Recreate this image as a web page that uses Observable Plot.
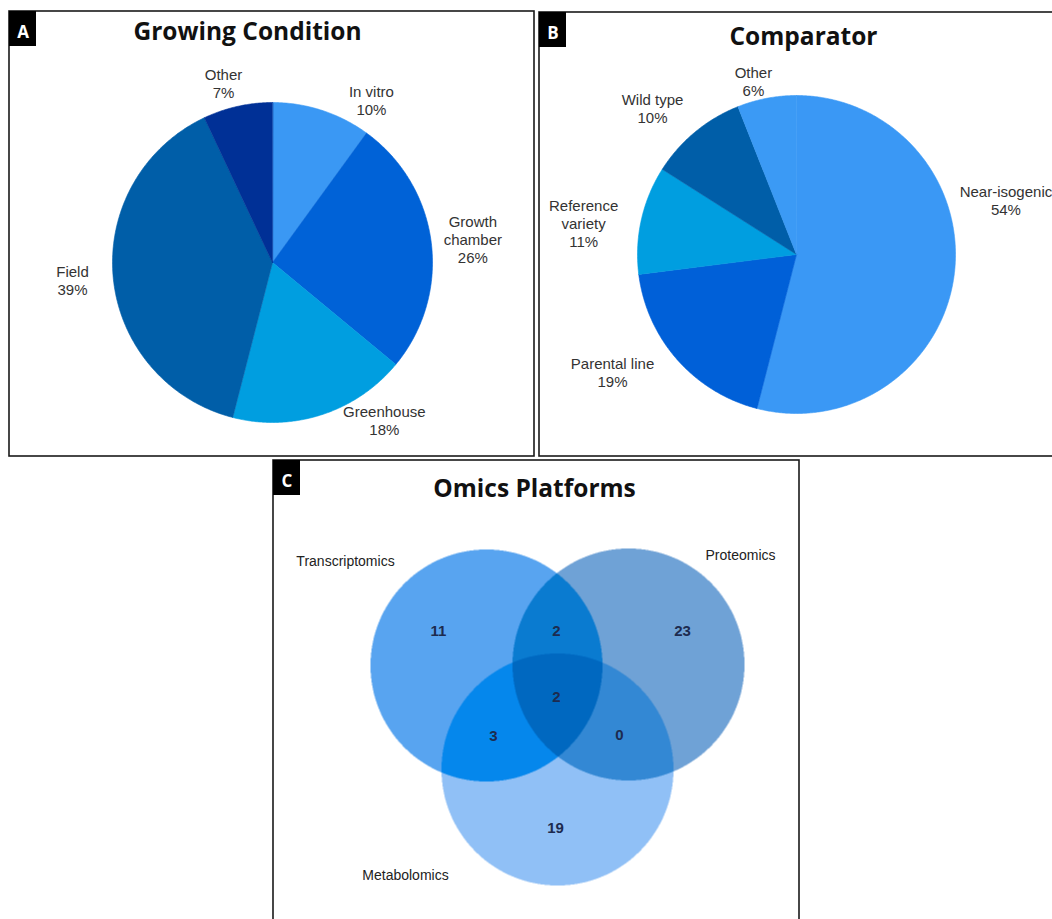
<!DOCTYPE html>
<html><head><meta charset="utf-8">
<script src="https://cdn.jsdelivr.net/npm/d3@7"></script>
<script src="https://cdn.jsdelivr.net/npm/@observablehq/plot@0.6"></script>
<style>
html,body{margin:0;padding:0;background:#fff;}
#chart{width:1052px;height:919px;overflow:hidden;}
</style></head><body><div id="chart"></div>
<script>
// ---------- DATA ----------
const growingCategories = ["In vitro", "Growth chamber", "Greenhouse", "Field", "Other"];
const growingValues = [10, 26, 18, 39, 7];
const comparatorCategories = ["Near-isogenic", "Parental line", "Reference variety", "Wild type", "Other"];
const comparatorValues = [54, 19, 11, 10, 6];
const omicsSets = ["Transcriptomics", "Proteomics", "Metabolomics"];
const omicsRegionKeys = ["T", "TP", "P", "TM", "TPM", "PM", "M"];
const omicsRegionCounts = [11, 2, 23, 3, 2, 0, 19];
const panelTitles = ["Growing Condition", "Comparator", "Omics Platforms"];
const panelLetters = ["A", "B", "C"];

// ---------- LAYOUT / STYLE ----------
const W = 1052, H = 919;
const panels = [
  {x1: 9, y1: 11, x2: 534, y2: 456},
  {x1: 539, y1: 12, x2: 1075, y2: 456},
  {x1: 273, y1: 460, x2: 799, y2: 940}
];
const letterBoxW = 27, letterBoxH = 35;
const titlePos = [{x: 247, y: 32}, {x: 803, y: 37}, {x: 534, y: 489}];
const pieA = {cx: 272, cy: 262, r: 160,
  colors: ["#3a98f4", "#0062d7", "#009ee0", "#005ea8", "#003096"],
  labelPolar: [[31.3, 1.19], [83.5, 1.26], [144.7, 1.21], [264.9, 1.255], [344.7, 1.16]],
  wrap: [false, true, false, false, false]};
const pieB = {cx: 796, cy: 254, r: 159,
  colors: ["#3a98f5", "#0060d8", "#009ee0", "#005ea8", "#3b9af5"],
  labelPolar: [[75.6, 1.36], [237.3, 1.375], [278.3, 1.353], [315.4, 1.29], [346, 1.12]],
  wrap: [false, false, true, false, false]};
const venn = {r: 116, centers: [[486, 665], [628, 664], [557, 769]],
  setLabelPos: [[345, 561], [740, 555], [405, 875]],
  regionLabelPos: [[438, 631], [556, 631], [682, 631], [493, 736], [556, 697], [619, 735], [555, 828]],
  regionColors: {T: "#58a4f0", P: "#6fa2d6", M: "#90c0f6", TP: "#0a7bd0", TM: "#0587ec", PM: "#3388d4", TPM: "#0068c0"},
  baseColors: ["#58a4f0", "#6fa2d6", "#90c0f6"]};
const labelFont = "'Liberation Sans', Arial, Helvetica, sans-serif";
const titleFont = "'Open Sans', 'Lato', sans-serif";

// ---------- BUILD ----------
function pieGeometry(cats, vals, cfg) {
  const arcs = d3.pie().sort(null).value(d => d)(vals);
  const pts = [];
  arcs.forEach((a, i) => {
    const k = cats[i], c = cfg.colors[i];
    pts.push({k, c, x: cfg.cx, y: cfg.cy});
    const n = Math.max(2, Math.ceil((a.endAngle - a.startAngle) / (Math.PI / 360)));
    for (let j = 0; j <= n; j++) {
      const t = a.startAngle + (a.endAngle - a.startAngle) * j / n;
      pts.push({k, c, x: cfg.cx + cfg.r * Math.sin(t), y: cfg.cy - cfg.r * Math.cos(t)});
    }
  });
  const labels = cats.map((k, i) => {
    const [ang, d] = cfg.labelPolar[i];
    const t = ang * Math.PI / 180;
    const name = cfg.wrap[i] ? k.replace(" ", "\n") : k;
    return {text: name + "\n" + vals[i] + "%", x: cfg.cx + cfg.r * d * Math.sin(t), y: cfg.cy - cfg.r * d * Math.cos(t)};
  });
  return {pts, labels};
}

const gA = pieGeometry(growingCategories, growingValues, pieA);
const gB = pieGeometry(comparatorCategories, comparatorValues, pieB);

const letterBoxes = panels.map((p, i) => ({x1: p.x1, y1: p.y1, x2: p.x1 + letterBoxW, y2: p.y1 + letterBoxH, t: panelLetters[i]}));
const titles = panelTitles.map((t, i) => ({t, ...titlePos[i]}));
const setLabels = omicsSets.map((s, i) => ({t: s, x: venn.setLabelPos[i][0], y: venn.setLabelPos[i][1]}));
const regionLabels = omicsRegionKeys.map((k, i) => ({t: String(omicsRegionCounts[i]), x: venn.regionLabelPos[i][0], y: venn.regionLabelPos[i][1]}));

function regionColor(x, y) {
  let k = "";
  const tags = ["T", "P", "M"];
  venn.centers.forEach(([cx, cy], i) => {
    if ((x - cx) ** 2 + (y - cy) ** 2 <= venn.r ** 2) k += tags[i];
  });
  return k ? venn.regionColors[k] : "#ffffff";
}

function vennMarks(useRaster) {
  const xs = venn.centers.map(c => c[0]), ys = venn.centers.map(c => c[1]);
  if (useRaster) {
    return [Plot.raster({
      x1: d3.min(xs) - venn.r - 3, x2: d3.max(xs) + venn.r + 3,
      y1: d3.min(ys) - venn.r - 3, y2: d3.max(ys) + venn.r + 3,
      pixelSize: 0.5, fill: regionColor
    })];
  }
  const circ = venn.centers.map(([x, y], i) => ({x, y, c: venn.baseColors[i]}));
  return [Plot.dot(circ, {x: "x", y: "y", r: venn.r, fill: "c", mixBlendMode: "multiply"})];
}

function build(useRaster) {
  return Plot.plot({
    width: W, height: H, margin: 0,
    x: {domain: [0, W], range: [0, W], axis: null},
    y: {domain: [0, H], range: [0, H], axis: null},
    color: {type: "identity"},
    r: {type: "identity"},
    style: {background: "white", fontFamily: labelFont, overflow: "hidden"},
    marks: [
      // pies
      Plot.line(gA.pts, {x: "x", y: "y", z: "k", fill: "c", stroke: "c", strokeWidth: 0.6, curve: "linear-closed"}),
      Plot.line(gB.pts, {x: "x", y: "y", z: "k", fill: "c", stroke: "c", strokeWidth: 0.6, curve: "linear-closed"}),
      Plot.text([...gA.labels, ...gB.labels], {x: "x", y: "y", text: "text", fontSize: 15, lineHeight: 1.2, fill: "#333", fontFamily: labelFont}),
      // venn
      ...vennMarks(useRaster),
      Plot.text(setLabels, {x: "x", y: "y", text: "t", fontSize: 14, fill: "#222", fontFamily: labelFont}),
      Plot.text(regionLabels, {x: "x", y: "y", text: "t", fontSize: 15, fontWeight: "bold", fill: "#1d2b4f", fontFamily: labelFont}),
      // panel frames
      Plot.rect(panels, {x1: "x1", y1: "y1", x2: "x2", y2: "y2", fill: "none", stroke: "#1a1a1a", strokeWidth: 1.6}),
      Plot.rect(letterBoxes, {x1: "x1", y1: "y1", x2: "x2", y2: "y2", fill: "#000"}),
      Plot.text(letterBoxes, {x: d => (d.x1 + d.x2) / 2, y: d => d.y1 + 21, text: "t", fill: "#fff", fontSize: 17, fontWeight: "bold", fontFamily: titleFont}),
      Plot.text(titles, {x: "x", y: "y", text: "t", fontSize: 24.5, fontWeight: "bold", fill: "#111", fontFamily: titleFont})
    ]
  });
}

let svg;
try { svg = build(true); } catch (e) { console.error(e); svg = build(false); }
document.getElementById("chart").appendChild(svg);
</script></body></html>
